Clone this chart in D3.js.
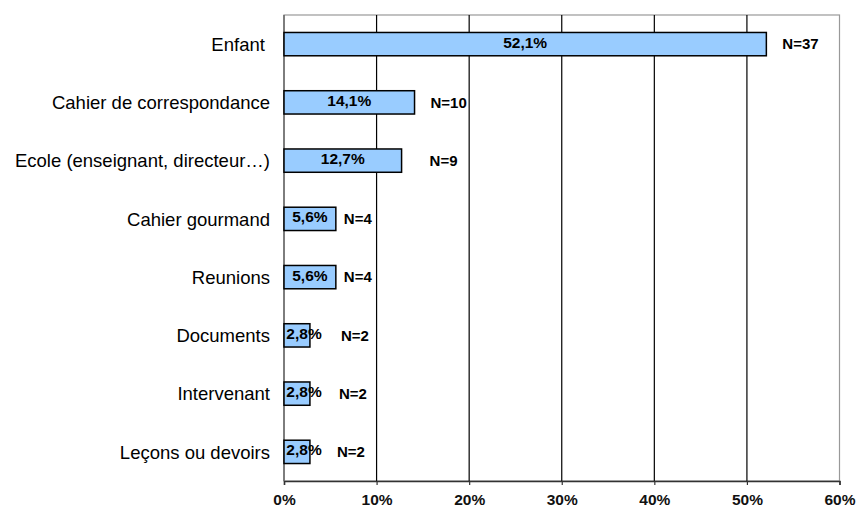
<!DOCTYPE html>
<html>
<head>
<meta charset="utf-8">
<script src="https://cdn.jsdelivr.net/npm/d3@7"></script>
<style>
  body { margin: 0; background: #fff; }
  svg { font-family: "Liberation Sans", Arial, sans-serif; }
</style>
</head>
<body>
<svg id="chart" width="856" height="510"></svg>
<script>
// data of the chart
var categories = ["Enfant ", "Cahier de correspondance", "Ecole (enseignant, directeur\u2026)",
  "Cahier gourmand", "Reunions", "Documents", "Intervenant", "Le\u00e7ons ou devoirs"]
var percents = [52.1, 14.1, 12.7, 5.6, 5.6, 2.8, 2.8, 2.8]
var counts = [37, 10, 9, 4, 4, 2, 2, 2]
var ticks = [0, 10, 20, 30, 40, 50, 60]

// margins
var margin = {top: 15, right: 16.5, bottom: 29, left: 284}
var width = 856 - margin.left - margin.right
var height = 510 - margin.top - margin.bottom

// extra shift of the N= labels, as in the original
var nShift = [16, 16, 28, 8, 8, 31, 29, 27]

var svg = d3.select("#chart")
var g = svg.append("g")
  .attr("transform", "translate(" + margin.left + "," + margin.top + ")")

var x = d3.scaleLinear().domain([0, 60]).range([0, width])
var y = d3.scaleBand().domain(categories).range([0, height]).paddingInner(0.6).paddingOuter(0.3)

// frame (grey top and right)
g.append("rect")
  .attr("width", width).attr("height", height)
  .attr("fill", "none").attr("stroke", "#999").attr("stroke-width", 1.2)

// gridlines
g.selectAll(".grid")
  .data(ticks.slice(1, -1))
  .enter().append("line")
  .attr("x1", function(d) { return x(d) }).attr("x2", function(d) { return x(d) })
  .attr("y1", 0).attr("y2", height)
  .attr("stroke", "#000").attr("stroke-width", 1.2)

// x axis
var xAxis = g.append("g")
  .attr("transform", "translate(0," + height + ")")
  .call(d3.axisBottom(x).tickValues(ticks).tickSize(4).tickFormat(function(d) { return d + "%" }))
xAxis.select(".domain").attr("stroke", "#333").attr("stroke-width", 1.5)
xAxis.selectAll(".tick line").attr("stroke", "#333").attr("stroke-width", 1.2)
xAxis.selectAll("text")
  .attr("y", 13)
  .attr("font-size", 15.5).attr("font-weight", "bold")
  .attr("font-family", "Liberation Sans, Arial, sans-serif")
  .attr("fill", "#111")

// y axis line
g.append("line")
  .attr("x1", 0).attr("x2", 0).attr("y1", 0).attr("y2", height)
  .attr("stroke", "#666").attr("stroke-width", 1.5)

// category labels
g.selectAll(".cat")
  .data(categories)
  .enter().append("text")
  .attr("x", -14)
  .attr("y", function(d) { return y(d) + y.bandwidth() / 2 })
  .attr("dy", "0.36em")
  .attr("text-anchor", "end")
  .attr("font-size", 18.5)
  .attr("xml:space", "preserve")
  .text(function(d) { return d })

// bars
g.selectAll(".bar")
  .data(percents)
  .enter().append("rect")
  .attr("x", 0)
  .attr("y", function(d, i) { return y(categories[i]) })
  .attr("width", function(d) { return x(d) })
  .attr("height", y.bandwidth())
  .attr("fill", "#99ccff")
  .attr("stroke", "#000").attr("stroke-width", 1.5)

// percent labels
g.selectAll(".pct")
  .data(percents)
  .enter().append("text")
  .attr("x", function(d) { return Math.max(x(d) / 2, 20) })
  .attr("y", function(d, i) { return y(categories[i]) + y.bandwidth() / 2 - 2 })
  .attr("dy", "0.35em")
  .attr("text-anchor", "middle")
  .attr("font-size", 15.5).attr("font-weight", "bold")
  .text(function(d) { return d.toFixed(1).replace(".", ",") + "%" })

// N labels
g.selectAll(".n")
  .data(counts)
  .enter().append("text")
  .attr("x", function(d, i) { return x(percents[i]) + nShift[i] })
  .attr("y", function(d, i) { return y(categories[i]) + y.bandwidth() / 2 })
  .attr("dy", "0.35em")
  .attr("font-size", 15).attr("font-weight", "bold")
  .text(function(d) { return "N=" + d })
</script>
</body>
</html>
